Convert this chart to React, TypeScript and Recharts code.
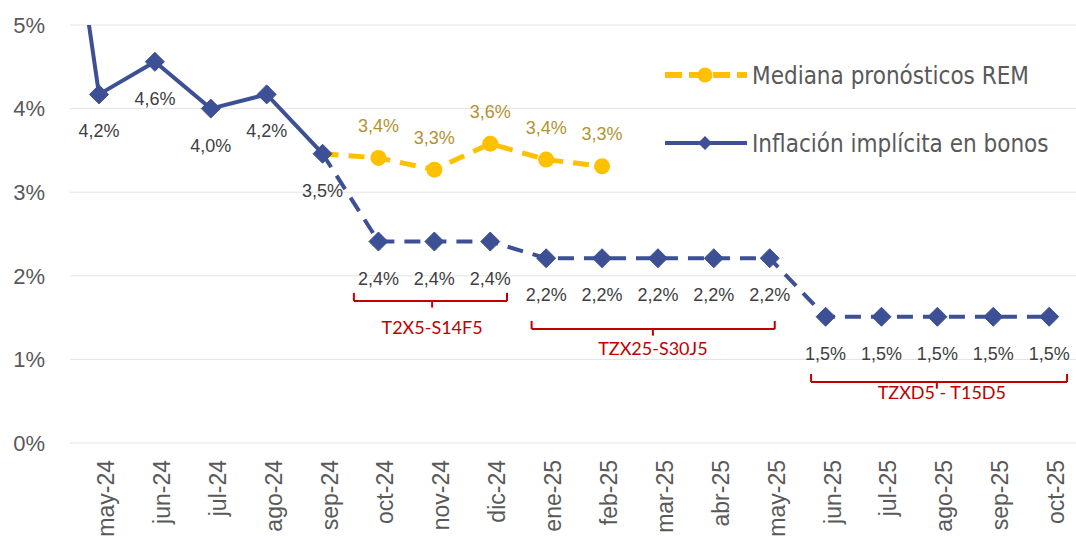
import React from 'react';
import {
  LineChart,
  Line,
  XAxis,
  YAxis,
  CartesianGrid,
  ReferenceLine,
  ReferenceDot,
  LabelList,
  Legend,
} from 'recharts';

// ---- Data ----
const meses = [
  'may-24', 'jun-24', 'jul-24', 'ago-24', 'sep-24', 'oct-24', 'nov-24', 'dic-24',
  'ene-25', 'feb-25', 'mar-25', 'abr-25', 'may-25', 'jun-25', 'jul-25', 'ago-25',
  'sep-25', 'oct-25',
];

// abr-24 value (outside the visible area, the line enters from the top)
const inflacionPrevia = 8.8;

const inflacionImplicita = [
  4.17, 4.56, 4.0, 4.17, 3.46, 2.41, 2.41, 2.41, 2.21, 2.21, 2.21, 2.21, 2.21,
  1.51, 1.51, 1.51, 1.51, 1.51,
];

// index of last observed (solid) point: sep-24
const ultimoObservado = 4;

const medianaREM: (number | null)[] = [
  null, null, null, null, 3.46, 3.41, 3.27, 3.58, 3.39, 3.31, null, null, null,
  null, null, null, null, null,
];

const yTicks = [0, 1, 2, 3, 4, 5];
const xTicks = meses.map((_, i) => i);

// bond-pair brackets (data-space coordinates)
const tramos = [
  { nombre: 'T2X5-S14F5', desde: 4.56, hasta: 7.3, centro: 5.96, nivel: 1.7, etiquetaX: 5.96, etiquetaY: 1.376 },
  { nombre: 'TZX25-S30J5', desde: 7.74, hasta: 12.09, centro: 9.91, nivel: 1.364, etiquetaX: 9.91, etiquetaY: 1.124 },
  { nombre: 'TZXD5 - T15D5', desde: 12.74, hasta: 17.32, centro: 14.99, nivel: 0.73, etiquetaX: 15.08, etiquetaY: 0.598 },
];

// ---- Styles ----
const AZUL = '#3D5095';
const AMARILLO = '#FFC000';
const ORO = '#B3922F';
const ROJO = '#C00000';
const FONT = "'Liberation Sans', Arial, sans-serif";
const LEGEND_FONT = "'DejaVu Sans Condensed', 'Liberation Sans', sans-serif";

const data = [
  { x: -1, solido: inflacionPrevia, bonos: null as number | null, rem: null as number | null },
  ...meses.map((_, i) => ({
    x: i,
    solido: i <= ultimoObservado ? inflacionImplicita[i] : null,
    bonos: i >= ultimoObservado ? inflacionImplicita[i] : null,
    rem: medianaREM[i],
  })),
];

const fmt = (v: number) => `${v.toFixed(1).replace('.', ',')}%`;

const makeDiamond = (skip: (x: number) => boolean) => (props: any) => {
  const { cx, cy, index, key } = props;
  const row = data[index];
  if (cx == null || cy == null || !row || skip(row.x)) return <g key={key ?? `d-${index}`} />;
  const s = 9.5;
  return (
    <polygon
      key={key ?? `d-${index}`}
      points={`${cx},${cy - s} ${cx + s},${cy} ${cx},${cy + s} ${cx - s},${cy}`}
      fill={AZUL}
      stroke={AZUL}
      strokeWidth={1}
      strokeLinejoin="round"
    />
  );
};

const remDot = (props: any) => {
  const { cx, cy, index, key } = props;
  const row = data[index];
  if (cx == null || cy == null || !row || row.rem == null || row.x === ultimoObservado)
    return <g key={key ?? `r-${index}`} />;
  return <circle key={key ?? `r-${index}`} cx={cx} cy={cy} r={8} fill={AMARILLO} />;
};

const makeLabel = (dy: number, color: string, skip: (x: number) => boolean) => (props: any) => {
  const { value, index } = props;
  const x = props.x ?? props.viewBox?.x;
  const y = props.y ?? props.viewBox?.y;
  const row = data[index];
  if (value == null || x == null || y == null || !row || skip(row.x)) return null;
  return (
    <text
      x={x}
      y={y + dy}
      textAnchor="middle"
      dominantBaseline="central"
      fill={color}
      fontSize={18}
      fontFamily={FONT}
    >
      {fmt(Number(value))}
    </text>
  );
};

const XTick = (props: any) => {
  const { x, y, payload } = props;
  return (
    <text
      transform={`translate(${x},${y}) rotate(-90)`}
      textAnchor="end"
      dominantBaseline="central"
      dy={7}
      fill="#595959"
      fontSize={23}
      fontFamily={FONT}
    >
      {meses[payload.value]}
    </text>
  );
};

const LegendContent = () => (
  <svg width={420} height={120} style={{ display: 'block' }}>
    <line x1={10} y1={30} x2={92} y2={30} stroke={AMARILLO} strokeWidth={6} strokeDasharray="17 7" />
    <circle cx={50} cy={30} r={7.5} fill={AMARILLO} />
    <text x={97} y={31} dominantBaseline="central" fill="#595959" fontSize={24} fontFamily={LEGEND_FONT}>
      Mediana pronósticos REM
    </text>
    <line x1={10} y1={98} x2={92} y2={98} stroke={AZUL} strokeWidth={4} />
    <polygon points="50,91 57,98 50,105 43,98" fill={AZUL} />
    <text x={97} y={99} dominantBaseline="central" fill="#595959" fontSize={24} fontFamily={LEGEND_FONT}>
      Inflación implícita en bonos
    </text>
  </svg>
);

export default function App() {
  return (
    <div style={{ position: 'absolute', left: 0, top: 0, width: 1076, height: 538, background: '#fff' }}>
      <LineChart
        width={1076}
        height={538}
        data={data}
        margin={{ top: 25, right: 0, bottom: 0, left: 0 }}
      >
        <CartesianGrid vertical={false} stroke="#E4E4E4" strokeWidth={1} />
        <XAxis
          type="number"
          dataKey="x"
          domain={[-0.519, 17.48]}
          allowDataOverflow
          ticks={xTicks}
          interval={0}
          tick={<XTick />}
          tickLine={false}
          axisLine={false}
          tickSize={0}
          tickMargin={17}
          height={95}
        />
        <YAxis
          type="number"
          domain={[0, 5]}
          allowDataOverflow
          ticks={yTicks}
          tickFormatter={(v: number) => `${v}%`}
          tick={{ fill: '#595959', fontSize: 22, fontFamily: FONT }}
          tickLine={false}
          axisLine={false}
          tickSize={0}
          tickMargin={25}
          width={70}
        />
        <Legend
          layout="horizontal"
          verticalAlign="middle"
          align="center"
          content={<LegendContent />}
          wrapperStyle={{ left: 655, top: 45, width: 420, height: 120 }}
        />

        {tramos.map((t) => (
          <ReferenceLine
            key={`h-${t.nombre}`}
            segment={[{ x: t.desde, y: t.nivel }, { x: t.hasta, y: t.nivel }]}
            stroke={ROJO}
            strokeWidth={2}
          />
        ))}
        {tramos.map((t) => (
          <ReferenceLine
            key={`l-${t.nombre}`}
            segment={[{ x: t.desde, y: t.nivel }, { x: t.desde, y: t.nivel + 0.096 }]}
            stroke={ROJO}
            strokeWidth={2}
          />
        ))}
        {tramos.map((t) => (
          <ReferenceLine
            key={`r-${t.nombre}`}
            segment={[{ x: t.hasta, y: t.nivel }, { x: t.hasta, y: t.nivel + 0.096 }]}
            stroke={ROJO}
            strokeWidth={2}
          />
        ))}
        {tramos.map((t) => (
          <ReferenceLine
            key={`c-${t.nombre}`}
            segment={[{ x: t.centro, y: t.nivel }, { x: t.centro, y: t.nivel - 0.08 }]}
            stroke={ROJO}
            strokeWidth={2}
          />
        ))}
        {tramos.map((t) => (
          <ReferenceDot
            key={`t-${t.nombre}`}
            x={t.etiquetaX}
            y={t.etiquetaY}
            r={0}
            fill="none"
            stroke="none"
            label={{ value: t.nombre, position: 'center', fill: ROJO, fontSize: 18, fontFamily: "Lato, 'Liberation Sans', sans-serif" }}
          />
        ))}

        <Line
          dataKey="rem"
          stroke={AMARILLO}
          strokeWidth={5}
          strokeDasharray="16 10"
          dot={remDot}
          activeDot={false}
          isAnimationActive={false}
          legendType="none"
        >
          <LabelList dataKey="rem" content={makeLabel(-32, ORO, (x) => x === ultimoObservado)} />
        </Line>
        <Line
          dataKey="bonos"
          stroke={AZUL}
          strokeWidth={4}
          strokeDasharray="16 10"
          dot={makeDiamond((x) => x === ultimoObservado)}
          activeDot={false}
          isAnimationActive={false}
          legendType="none"
        >
          <LabelList dataKey="bonos" content={makeLabel(37, '#404040', (x) => x === ultimoObservado)} />
        </Line>
        <Line
          dataKey="solido"
          stroke={AZUL}
          strokeWidth={4}
          dot={makeDiamond((x) => x < 0)}
          activeDot={false}
          isAnimationActive={false}
          legendType="none"
        >
          <LabelList dataKey="solido" content={makeLabel(37, '#404040', (x) => x < 0)} />
        </Line>
      </LineChart>
    </div>
  );
}
